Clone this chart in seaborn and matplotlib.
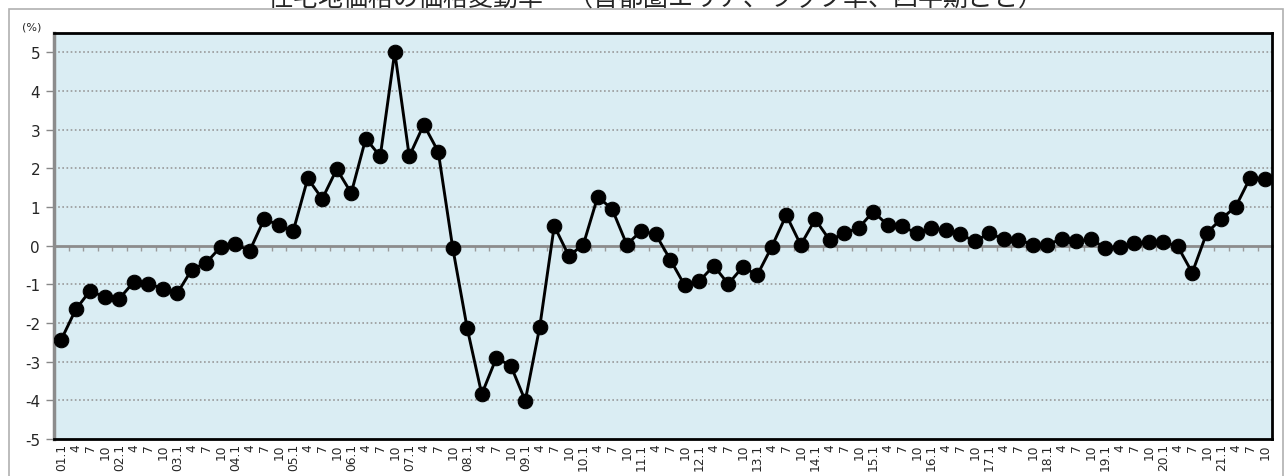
import matplotlib
matplotlib.use("Agg")
import matplotlib.pyplot as plt
import seaborn as sns
import pandas as pd
from matplotlib.patches import Rectangle
from matplotlib.ticker import FixedLocator, NullFormatter

# quarterly change rate (%), 2001 Q1 .. 2021 Q4
years = [f"{y:02d}" for y in range(1, 22)]
months = ["1", "4", "7", "10"]
rate = [
    -2.43, -1.65, -1.16, -1.34,
    -1.37, -0.94, -0.98, -1.11,
    -1.23, -0.62, -0.44, -0.03,
    0.04, -0.13, 0.69, 0.53,
    0.38, 1.74, 1.21, 1.98,
    1.36, 2.77, 2.31, 5.01,
    2.31, 3.13, 2.43, -0.06,
    -2.14, -3.84, -2.91, -3.10,
    -4.01, -2.10, 0.51, -0.26,
    0.02, 1.27, 0.94, 0.03,
    0.38, 0.29, -0.36, -1.03,
    -0.92, -0.52, -0.99, -0.55,
    -0.76, -0.03, 0.79, 0.02,
    0.68, 0.14, 0.32, 0.46,
    0.88, 0.53, 0.50, 0.32,
    0.45, 0.41, 0.30, 0.11,
    0.32, 0.17, 0.15, 0.03,
    0.03, 0.17, 0.12, 0.16,
    -0.05, -0.04, 0.06, 0.09,
    0.10, -0.02, -0.70, 0.33,
    0.69, 1.01, 1.76, 1.73,
]
tick_labels = [f"{y}.1" if m == "1" else m for y in years for m in months]
title = "住宅地価格の価格変動率　（首都圏エリア、ラップ率、四半期ごと）"

df = pd.DataFrame({"idx": range(len(rate)), "rate": rate})

sns.set_theme(style="white")
plt.rcParams["font.family"] = ["DejaVu Sans", "Noto Sans CJK JP"]

fig = plt.figure(figsize=(12.85, 4.77), dpi=100)
ax = fig.add_axes([54 / 1285, 1 - 440 / 477, (1272 - 54) / 1285, (440 - 34) / 477])
ax.set_facecolor("#daedf3")

sns.lineplot(data=df, x="idx", y="rate", ax=ax, color="black", linewidth=2.1,
             marker="o", markersize=10.5, markeredgecolor="black", zorder=5)

ymin, ymax = -5, 5.5
ax.set_ylim(ymin, ymax)
ax.set_xlim(-0.5, len(rate) - 0.5)

ax.set_yticks(range(-5, 6))
ax.set_yticklabels([str(v) for v in range(-5, 6)], fontsize=11)
for v in range(-4, 6):
    if v != 0:
        ax.axhline(v, color="#999999", linestyle=(0, (1, 1.5)), linewidth=1.2, zorder=1)

ax.set_xticks(range(len(rate)))
ax.set_xticklabels(tick_labels, rotation=90, fontsize=8.8)
ax.tick_params(axis="x", length=0, pad=3)
ax.tick_params(axis="y", left=True, length=6, width=1, color="#888888", pad=4)
ax.set_xlabel("")
ax.set_ylabel("")

# zero line with small ticks between categories
zero_ax = ax.secondary_xaxis((0 - ymin) / (ymax - ymin))
zero_ax.spines["bottom"].set_color("#8c8c8c")
zero_ax.spines["bottom"].set_linewidth(2)
zero_ax.xaxis.set_major_locator(FixedLocator([i + 0.5 for i in range(len(rate) - 1)]))
zero_ax.xaxis.set_major_formatter(NullFormatter())
zero_ax.tick_params(axis="x", direction="out", length=3.5, width=1, color="#9a9a9a")
zero_ax.set_zorder(2)

ax.spines["left"].set_color("#8c8c8c")
ax.spines["left"].set_linewidth(2.5)
for s in ["top", "right", "bottom"]:
    ax.spines[s].set_color("black")
    ax.spines[s].set_linewidth(2)

fig.text(22 / 1285, 1 - 27 / 477, "(%)", fontsize=8, va="center", ha="left")

# outer chart border
fig.patches.append(Rectangle((9 / 1285, -0.05), (1283 - 9) / 1285, 1.05 - 10 / 477,
                             transform=fig.transFigure, fill=False,
                             edgecolor="#b0b0b0", linewidth=1.2))

fig.text(656 / 1285, 1 - 6 / 477, title, fontsize=18, ha="center", va="baseline",
         family=["Noto Sans CJK JP", "DejaVu Sans"])

fig.savefig("out.png", dpi=100, facecolor="white")
